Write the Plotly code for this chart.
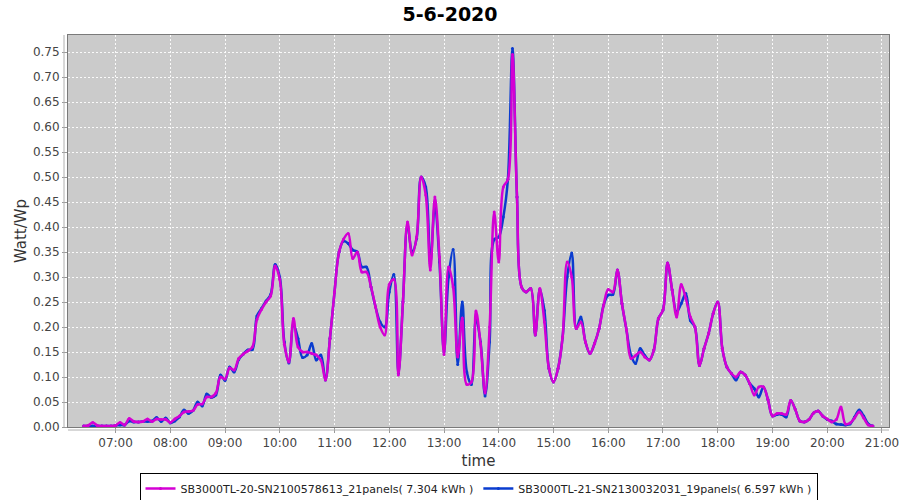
import plotly.graph_objects as go
import pandas as pd

# 5-minute samples from 06:25 to 20:50
times = pd.date_range("2020-06-05 06:25", "2020-06-05 20:50", freq="5min")

name_a = "SB3000TL-20-SN2100578613_21panels( 7.304 kWh )"
name_b = "SB3000TL-21-SN2130032031_19panels( 6.597 kWh )"

inv20 = [
    0.002, 0.003, 0.009, 0.003, 0.002, 0.002, 0.002,            # 06:25-06:55
    0.003, 0.009, 0.004, 0.017, 0.011, 0.010, 0.011, 0.016,     # 07:00-07:35
    0.011, 0.016, 0.015, 0.015,                                 # 07:40-07:55
    0.009, 0.016, 0.022, 0.030, 0.031, 0.033, 0.045, 0.046,     # 08:00-08:35
    0.060, 0.060, 0.068, 0.100,                                 # 08:40-08:55
    0.096, 0.118, 0.114, 0.137, 0.146, 0.152, 0.160, 0.215,     # 09:00-09:35
    0.235, 0.250, 0.262, 0.322,                                 # 09:40-09:55
    0.295, 0.165, 0.130, 0.217, 0.160, 0.150, 0.150, 0.147,     # 10:00-10:35
    0.144, 0.134, 0.094, 0.177,                                 # 10:40-10:55
    0.270, 0.350, 0.376, 0.387, 0.337, 0.350, 0.310, 0.310,     # 11:00-11:35
    0.280, 0.240, 0.200, 0.184,                                 # 11:40-11:55
    0.285, 0.295, 0.104, 0.250, 0.410, 0.344, 0.380, 0.500,     # 12:00-12:35
    0.464, 0.314, 0.460, 0.340,                                 # 12:40-12:55
    0.145, 0.320, 0.280, 0.140, 0.218, 0.085, 0.090, 0.232,     # 13:00-13:35
    0.167, 0.068, 0.200, 0.430,                                 # 13:40-13:55
    0.330, 0.480, 0.495, 0.745, 0.460, 0.280, 0.270, 0.277,     # 14:00-14:35
    0.184, 0.277, 0.210, 0.117,                                 # 14:40-14:55
    0.090, 0.117, 0.180, 0.330, 0.300, 0.197, 0.210, 0.170,     # 15:00-15:35
    0.147, 0.167, 0.197, 0.244,                                 # 15:40-15:55
    0.275, 0.270, 0.314, 0.247, 0.194, 0.137, 0.143, 0.150,     # 16:00-16:35
    0.140, 0.134, 0.154, 0.217,                                 # 16:40-16:55
    0.234, 0.328, 0.274, 0.220, 0.285, 0.257, 0.220, 0.200,     # 17:00-17:35
    0.123, 0.157, 0.187, 0.227,                                 # 17:40-17:55
    0.250, 0.157, 0.120, 0.107, 0.100, 0.110, 0.104, 0.087,     # 18:00-18:35
    0.064, 0.080, 0.080, 0.055,                                 # 18:40-18:55
    0.022, 0.027, 0.027, 0.025, 0.053, 0.035, 0.012, 0.010,     # 19:00-19:35
    0.015, 0.028, 0.032, 0.022,                                 # 19:40-19:55
    0.016, 0.010, 0.015, 0.040, 0.006, 0.008, 0.018, 0.030,     # 20:00-20:35
    0.018, 0.004, 0.002,                                        # 20:40-20:50
]

inv21 = [
    0.002, 0.002, 0.002, 0.002, 0.002, 0.002, 0.002,            # 06:25-06:55
    0.003, 0.004, 0.004, 0.012, 0.010, 0.010, 0.011, 0.011,     # 07:00-07:35
    0.012, 0.019, 0.011, 0.018,                                 # 07:40-07:55
    0.008, 0.012, 0.020, 0.034, 0.027, 0.033, 0.050, 0.042,     # 08:00-08:35
    0.066, 0.059, 0.064, 0.104,                                 # 08:40-08:55
    0.093, 0.120, 0.110, 0.135, 0.146, 0.154, 0.155, 0.222,     # 09:00-09:35
    0.237, 0.252, 0.265, 0.325,                                 # 09:40-09:55
    0.300, 0.170, 0.128, 0.205, 0.177, 0.139, 0.144, 0.167,     # 10:00-10:35
    0.134, 0.144, 0.094, 0.177,                                 # 10:40-10:55
    0.270, 0.350, 0.372, 0.367, 0.354, 0.350, 0.320, 0.320,     # 11:00-11:35
    0.280, 0.240, 0.210, 0.200,                                 # 11:40-11:55
    0.270, 0.305, 0.107, 0.250, 0.404, 0.350, 0.377, 0.500,     # 12:00-12:35
    0.480, 0.327, 0.444, 0.330,                                 # 12:40-12:55
    0.150, 0.300, 0.355, 0.125, 0.250, 0.110, 0.085, 0.215,     # 13:00-13:35
    0.170, 0.062, 0.170, 0.375,                                 # 13:40-13:55
    0.380, 0.420, 0.495, 0.757, 0.460, 0.280, 0.270, 0.277,     # 14:00-14:35
    0.184, 0.275, 0.233, 0.117,                                 # 14:40-14:55
    0.090, 0.117, 0.180, 0.300, 0.348, 0.197, 0.220, 0.170,     # 15:00-15:35
    0.147, 0.167, 0.197, 0.244,                                 # 15:40-15:55
    0.264, 0.265, 0.314, 0.247, 0.194, 0.143, 0.127, 0.157,     # 16:00-16:35
    0.143, 0.134, 0.154, 0.217,                                 # 16:40-16:55
    0.234, 0.328, 0.274, 0.230, 0.247, 0.267, 0.213, 0.200,     # 17:00-17:35
    0.123, 0.157, 0.187, 0.227,                                 # 17:40-17:55
    0.250, 0.157, 0.120, 0.107, 0.094, 0.110, 0.104, 0.087,     # 18:00-18:35
    0.077, 0.060, 0.080, 0.055,                                 # 18:40-18:55
    0.022, 0.025, 0.025, 0.020, 0.053, 0.035, 0.012, 0.010,     # 19:00-19:35
    0.015, 0.028, 0.032, 0.022,                                 # 19:40-19:55
    0.015, 0.012, 0.006, 0.005, 0.004, 0.006, 0.020, 0.034,     # 20:00-20:35
    0.022, 0.006, 0.002,                                        # 20:40-20:50
]

MAGENTA = "#d400d4"
BLUE = "#0a3ccf"
FONT = "DejaVu Sans"

fig = go.Figure()
fig.add_trace(go.Scatter(
    x=times, y=inv21, name=name_b, mode="lines+markers",
    line=dict(color=BLUE, width=2.5, shape="spline", smoothing=1.0),
    marker=dict(color=BLUE, size=3),
))
fig.add_trace(go.Scatter(
    x=times, y=inv20, name=name_a, mode="lines+markers",
    line=dict(color=MAGENTA, width=2.5, shape="spline", smoothing=1.0),
    marker=dict(color=MAGENTA, size=3),
))

fig.update_layout(
    width=900, height=500,
    margin=dict(l=68, r=11, t=35, b=73, autoexpand=False),
    paper_bgcolor="white",
    plot_bgcolor="#cbcbcb",
    font=dict(family=FONT, color="#444444", size=12),
    title=dict(text="<b>5-6-2020</b>", xref="container", x=0.5, xanchor="center",
               yref="container", y=0.972, yanchor="middle",
               font=dict(family=FONT, size=19, color="black")),
    showlegend=True,
    legend=dict(orientation="h", x=0.5, xanchor="center", y=-46/392, yanchor="top",
                bordercolor="black", borderwidth=1, bgcolor="white",
                traceorder="reversed", font=dict(family=FONT, size=11, color="#222222"),
                itemwidth=30, tracegroupgap=0),
)

fig.update_xaxes(
    range=["2020-06-05 06:07:54", "2020-06-05 21:07:42"],
    tickformat="%H:%M", dtick=3600000, tick0="2020-06-05 00:00",
    showgrid=True, gridcolor="rgba(255,255,255,0.9)", griddash="2px,2px", gridwidth=1,
    showline=True, linecolor="#7a7a7a", linewidth=1, mirror=True,
    ticks="outside", ticklen=5, tickcolor="#999999",
    tickfont=dict(size=12, color="#444444"),
    title=dict(text="time", font=dict(size=15, color="#333333"), standoff=6),
    zeroline=False, automargin=False,
)
fig.update_yaxes(
    range=[0, 0.784], dtick=0.05, tick0=0, tickformat=".2f",
    showgrid=True, gridcolor="rgba(255,255,255,0.9)", griddash="2px,2px", gridwidth=1,
    showline=True, linecolor="#7a7a7a", linewidth=1, mirror=True,
    ticks="outside", ticklen=5, tickcolor="#999999",
    tickfont=dict(size=12, color="#444444"),
    title=dict(text="Watt/Wp", font=dict(size=15, color="#333333"), standoff=2),
    zeroline=False, automargin=False,
)

# offset axis lines (JFreeChart style)
fig.add_shape(type="line", xref="paper", yref="paper",
              x0=-4/821, x1=-4/821, y0=0, y1=1, line=dict(color="#b0b0b0", width=1))
fig.add_shape(type="line", xref="paper", yref="paper",
              x0=0, x1=1, y0=-3/392, y1=-3/392, line=dict(color="#b0b0b0", width=1))

fig.write_html("out.html", config={"displayModeBar": False},
               post_script="document.body.style.margin='0px';document.body.style.overflow='hidden';")
